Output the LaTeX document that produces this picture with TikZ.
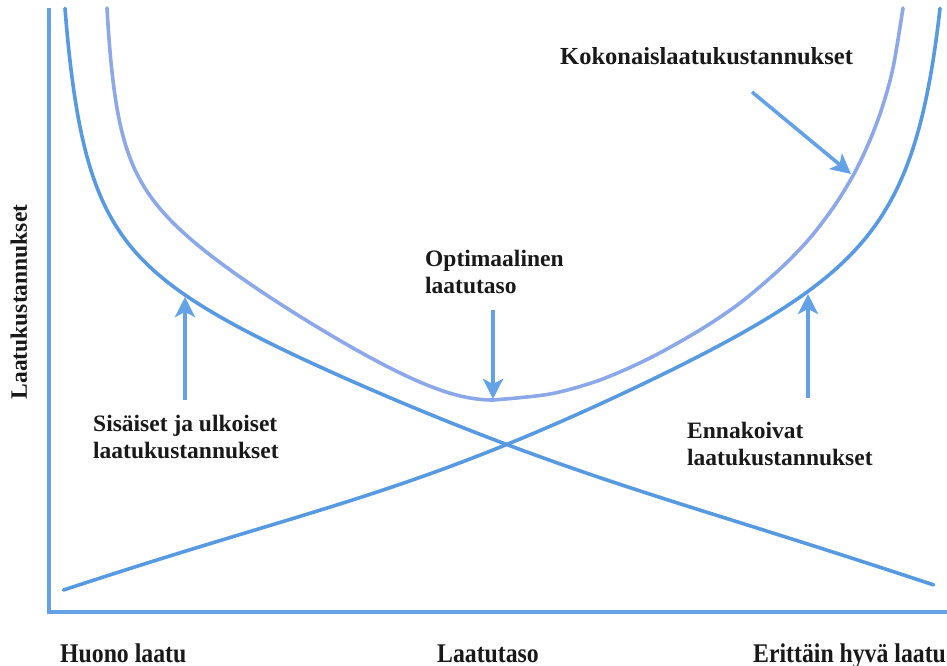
\documentclass[tikz,border=0pt]{standalone}
\usepackage{fontspec}
\setmainfont{Liberation Serif}
\newfontfamily\narrowserif[FakeStretch=0.88]{Liberation Serif}
\usetikzlibrary{arrows.meta}

\definecolor{curveblue}{RGB}{88,154,226}
\definecolor{totalblue}{RGB}{140,168,232}
\definecolor{axisblue}{RGB}{100,162,232}
\definecolor{labelink}{RGB}{25,25,25}

% cost curves, y measured downwards from the top edge
\pgfmathdeclarefunction{failcost}{1}{%
  \pgfmathparse{281.1+0.333*(#1)-7073/((#1)-41)+10*exp(0-(((#1)-540)/250)^2)}}
\pgfmathdeclarefunction{prevcost}{1}{%
  \pgfmathparse{621.3-0.3328*(#1)-10518/(975-(#1))+15*exp(0-(((#1)-450)/250)^2)}}
\pgfmathdeclarefunction{totalleft}{1}{%
  \pgfmathparse{462.56-2485.1/((#1)-95)-2895.7/(918-(#1))-61.873*sqrt((((#1)-493)/100)^2+0.64)}}

\begin{document}
\begin{tikzpicture}[x=1pt,y=-1pt,
  costline/.style={curveblue, line width=3.6pt, line cap=round, line join=round},
  totalline/.style={totalblue, line width=3.6pt, line cap=round, line join=round},
  axisline/.style={axisblue, line width=4pt},
  pointer/.style={axisblue, line width=3.6pt, -{Stealth[length=20pt,width=20pt,inset=5pt]}},
  lbl/.style={inner sep=0pt, text=labelink, font=\fontsize{23.5}{26.5}\selectfont\bfseries, align=left, anchor=base west},
  axislbl/.style={inner sep=0pt, text=labelink, font=\narrowserif\fontsize{27}{30}\selectfont\bfseries, anchor=base west},
]
\useasboundingbox (0,0) rectangle (947,666);

% axes
\coordinate (ytop) at (49,8);
\coordinate (origin) at (49,612);
\coordinate (xend) at (947,612);
\draw[axisline] (ytop) -- (origin) -- (xend);

% internal and external failure costs (falling)
\draw[costline] plot[variable=\t, domain=0:1, samples=220, smooth]
  ({65+870*\t*\t}, {failcost(65+870*\t*\t)});
% preventive costs (rising)
\draw[costline] plot[variable=\t, domain=0:1, samples=220, smooth]
  ({940-878*\t*\t}, {prevcost(940-878*\t*\t)});
% total quality costs
\draw[totalline] plot[variable=\t, domain=0:1, samples=160, smooth]
  ({107+386*\t*\t}, {totalleft(107+386*\t*\t)})
  -- plot[smooth, tension=0.5] coordinates
  {(493,400) (550,394) (600,380) (650,358) (700,330) (740,303) (780,269)
   (810,238) (835,205) (855,172) (870,140) (882,108) (893,68) (903,8)};

% pointer ends
\coordinate (totA) at (752,92);   \coordinate (totB) at (851,174);
\coordinate (optA) at (493,310);  \coordinate (optB) at (493,399);
\coordinate (failA) at (185,400); \coordinate (failB) at (185,297);
\coordinate (prevA) at (808,398); \coordinate (prevB) at (808,294);
\draw[pointer] (totA) -- (totB);
\draw[pointer] (optA) -- (optB);
\draw[pointer] (failA) -- (failB);
\draw[pointer] (prevA) -- (prevB);

% labels
\node[lbl, font=\fontsize{24.5}{27}\selectfont\bfseries] (total) at (560,65) {Kokonaislaatukustannukset};
\node[lbl] (optimum) at (425,293) {Optimaalinen\\laatutaso};
\node[lbl] (failure) at (93,458) {Sisäiset ja ulkoiset\\laatukustannukset};
\node[lbl] (prevent) at (687,465) {Ennakoivat\\laatukustannukset};
\node[lbl, rotate=90, anchor=base] (ylabel) at (27,302) {Laatukustannukset};
\node[axislbl] (poor) at (60,662) {Huono laatu};
\node[axislbl] (level) at (437,662) {Laatutaso};
\node[axislbl] (excellent) at (753,662) {Erittäin hyvä laatu};
\end{tikzpicture}
\end{document}
